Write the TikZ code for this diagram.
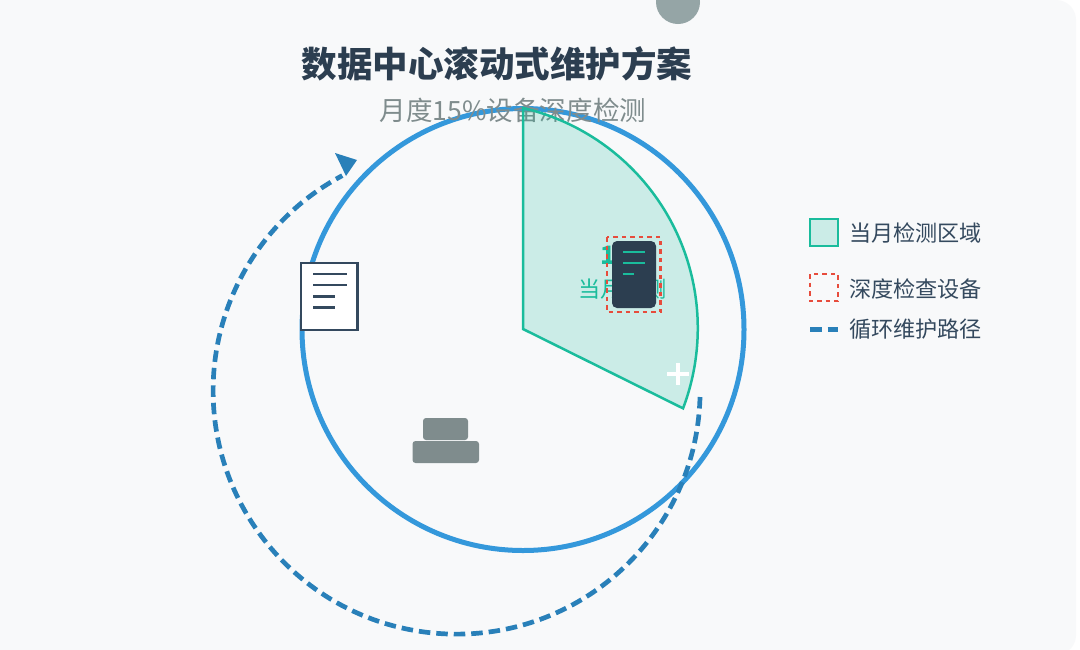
\documentclass[tikz,border=0pt]{standalone}
\usepackage{xcolor}
\usepackage{fontspec}
\setmainfont{Noto Sans CJK SC}
\usepackage{tikz}
\usetikzlibrary{arrows.meta,positioning,calc}

\definecolor{panelbg}{HTML}{F8F9FA}
\definecolor{ringblue}{HTML}{3498DB}
\definecolor{pathblue}{HTML}{2980B9}
\definecolor{zoneteal}{HTML}{1ABC9C}
\definecolor{checkred}{HTML}{E74C3C}
\definecolor{darkslate}{HTML}{2C3E50}
\definecolor{midslate}{HTML}{34495E}
\definecolor{stonegray}{HTML}{7F8C8D}
\definecolor{dotgray}{HTML}{95A5A6}

\tikzset{
  zone/.style={draw=zoneteal, fill=zoneteal, fill opacity=0.2, draw opacity=1, line width=0.25mm},
  checkbox/.style={draw=checkred, line width=0.25mm, dash pattern=on 0.45mm off 0.4mm},
  looppath/.style={draw=pathblue, line width=0.47mm, dash pattern=on 1.15mm off 0.6mm},
  legendtext/.style={anchor=west, text=midslate, font=\fontsize{6.3pt}{7pt}\selectfont, inner sep=0pt},
}

\begin{document}
\begin{tikzpicture}
\useasboundingbox (0,0) rectangle (10.8,-6.49);
% fondo
\fill[white] (0,0) rectangle (10.8,-6.49);
\fill[panelbg, rounded corners=0.2cm] (-0.4,0) rectangle (10.76,-6.55);
\fill[dotgray] (6.78,-0.02) circle (0.22);
% titulos
\node[text=darkslate, font=\fontsize{10.1pt}{12pt}\selectfont\bfseries] (title) at (4.97,-0.635) {数据中心滚动式维护方案};
% anillo
\draw[ringblue, line width=0.5mm] (5.23,-3.295) circle (2.21);
\node[text=stonegray, font=\fontsize{7.55pt}{9pt}\selectfont] (subtitle) at (5.13,-1.10) {月度15\%设备深度检测};
% zona del mes
\draw[zone] (5.23,-3.29) -- (5.23,-1.08) arc[start angle=76.9, end angle=-20.8, radius=2.26] -- cycle;
\node[text=zoneteal, font=\fontsize{7.2pt}{8pt}\selectfont\bfseries] (pct) at (6.28,-2.55) {15\%};
\node[text=zoneteal, font=\fontsize{6.3pt}{8pt}\selectfont] (zonelbl) at (6.225,-2.89) {当月检测};
\draw[white, line width=0.4mm] (6.67,-3.74) -- (6.89,-3.74) (6.78,-3.63) -- (6.78,-3.85);
% servidor
\fill[darkslate, rounded corners=0.05cm] (6.12,-2.41) rectangle (6.56,-3.08);
\draw[zoneteal, line width=0.22mm] (6.23,-2.52) -- (6.45,-2.52) (6.23,-2.63) -- (6.45,-2.63) (6.23,-2.74) -- (6.34,-2.74);
\draw[checkbox] (6.07,-2.37) rectangle (6.605,-3.12);
% documento
\draw[midslate, fill=white, line width=0.25mm] (3.01,-2.63) rectangle (3.575,-3.30);
\foreach \y/\xend in {2.74/3.465, 2.85/3.465, 2.965/3.35, 3.075/3.35}{
  \draw[midslate, line width=0.22mm] (3.13,-\y) -- (\xend,-\y);
}
% piedras
\fill[stonegray, rounded corners=0.03cm] (4.23,-4.18) rectangle (4.68,-4.40);
\fill[stonegray, rounded corners=0.03cm] (4.125,-4.41) rectangle (4.79,-4.63);
% ruta de mantenimiento
\draw[looppath] (7.0,-3.97) arc[start angle=-1.5, end angle=-242, radius=2.435];
\fill[pathblue] (3.35,-1.53) -- (3.57,-1.60) -- (3.46,-1.76) -- cycle;
% leyenda
\draw[zone, line width=0.28mm] (8.10,-2.19) rectangle (8.38,-2.46);
\draw[checkbox] (8.10,-2.74) rectangle (8.38,-3.01);
\draw[looppath] (8.10,-3.295) -- (8.38,-3.295);
\node[legendtext] (lgzone) at (8.485,-2.335) {当月检测区域};
\node[legendtext] (lgcheck) at (8.485,-2.895) {深度检查设备};
\node[legendtext] (lgpath) at (8.485,-3.295) {循环维护路径};
\end{tikzpicture}
\end{document}
